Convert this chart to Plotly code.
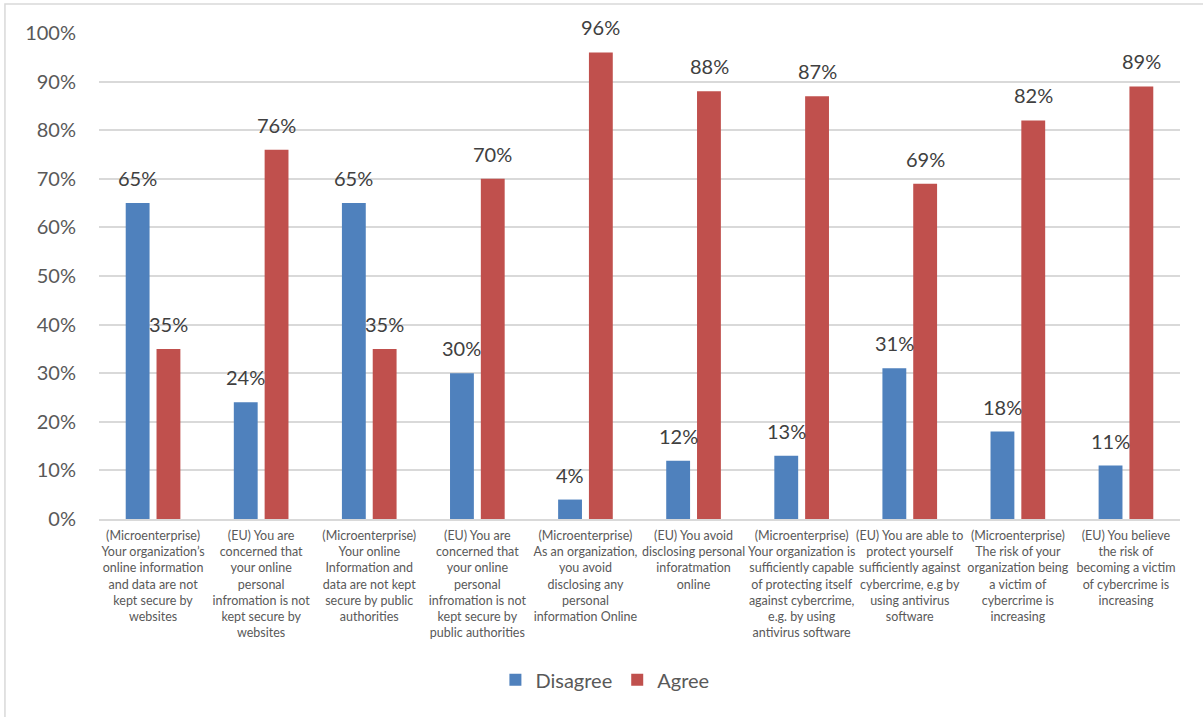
import plotly.graph_objects as go

# Survey statements (category axis)
categories = [
    "(Microenterprise)<br>Your organization’s<br>online information<br>and data are not<br>kept secure by<br>websites",
    "(EU) You are<br>concerned that<br>your online<br>personal<br>infromation is not<br>kept secure by<br>websites",
    "(Microenterprise)<br>Your online<br>Information and<br>data are not kept<br>secure by public<br>authorities",
    "(EU) You are<br>concerned that<br>your online<br>personal<br>infromation is not<br>kept secure by<br>public authorities",
    "(Microenterprise)<br>As an organization,<br>you avoid<br>disclosing any<br>personal<br>information Online",
    "(EU) You avoid<br>disclosing personal<br>inforatmation<br>online",
    "(Microenterprise)<br>Your organization is<br>sufficiently capable<br>of protecting itself<br>against cybercrime,<br>e.g. by using<br>antivirus software",
    "(EU) You are able to<br>protect yourself<br>sufficiently against<br>cybercrime, e.g by<br>using antivirus<br>software",
    "(Microenterprise)<br>The risk of your<br>organization being<br>a victim of<br>cybercrime is<br>increasing",
    "(EU) You believe<br>the risk of<br>becoming a victim<br>of cybercrime is<br>increasing",
]

disagree = [65, 24, 65, 30, 4, 12, 13, 31, 18, 11]
agree = [35, 76, 35, 70, 96, 88, 87, 69, 82, 89]

BLUE = "#4F81BD"
RED = "#C0504D"
FONT = "Lato, Open Sans, sans-serif"

fig = go.Figure()
fig.add_trace(go.Bar(name="Disagree", x=categories, y=disagree,
                     marker=dict(color=BLUE, line=dict(width=0))))
fig.add_trace(go.Bar(name="Agree", x=categories, y=agree,
                     marker=dict(color=RED, line=dict(width=0))))

# Value labels above each bar
annotations = []
for series, shift in ((disagree, -15.5), (agree, 15.5)):
    for cat, val in zip(categories, series):
        annotations.append(dict(
            x=cat, y=val, xref="x", yref="y",
            text=f"{val}%", showarrow=False,
            xshift=shift, yshift=25, yanchor="middle", xanchor="center",
            font=dict(family=FONT, size=20, color="#404040"),
        ))

fig.update_layout(
    width=1203, height=717,
    margin=dict(l=99, r=23, t=33, b=198),
    paper_bgcolor="white", plot_bgcolor="white",
    barmode="group", bargap=0.43, bargroupgap=0.226,
    font=dict(family=FONT, color="#595959"),
    annotations=annotations,
    showlegend=True,
    legend=dict(orientation="h", x=0.468, xanchor="center", y=-0.331,
                yanchor="middle", font=dict(family=FONT, size=20, color="#595959"),
                itemclick=False, traceorder="normal"),
    shapes=[dict(type="rect", xref="paper", yref="paper",
                 x0=-0.087, x1=1.04, y0=-0.45, y1=1.0597,
                 line=dict(color="#d9d9d9", width=1.5), fillcolor="rgba(0,0,0,0)",
                 layer="below")],
)

fig.update_xaxes(
    tickangle=0, tickfont=dict(family=FONT, size=12.5, color="#595959"),
    showline=True, linecolor="#d9d9d9", linewidth=1.5,
    showgrid=False, ticks="", ticklabelstandoff=4,
)
fig.update_yaxes(
    range=[0, 100], dtick=10, ticksuffix="%",
    tickfont=dict(family=FONT, size=20, color="#595959"),
    showgrid=True, gridcolor="#d9d9d9", gridwidth=1.5,
    zeroline=False, showline=False, ticks="", ticklabelstandoff=22,
)

fig.write_html("out.html")
